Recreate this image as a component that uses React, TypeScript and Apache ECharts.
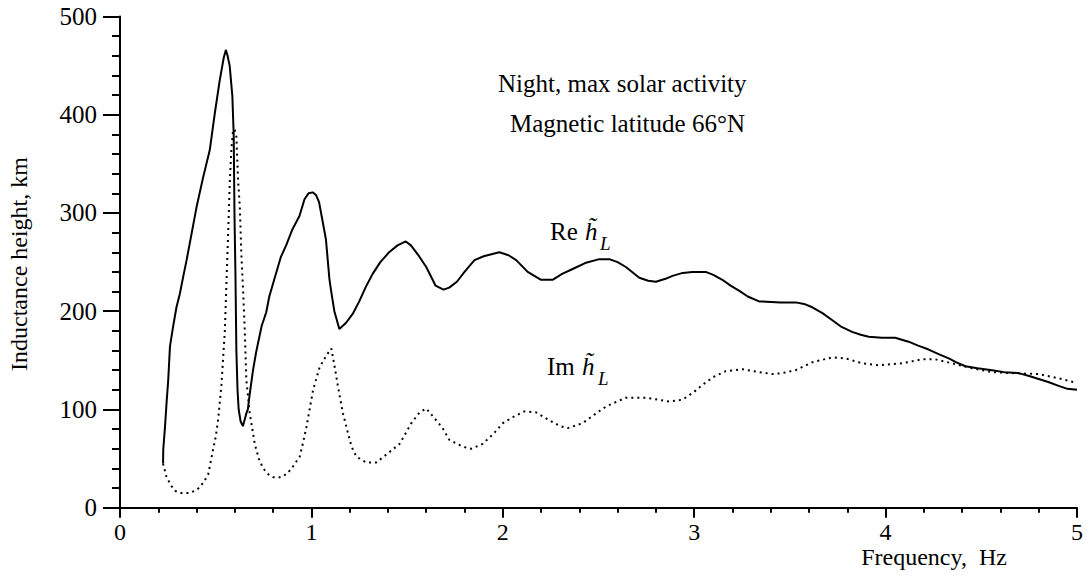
import React, { useEffect, useRef } from "react";
import * as echarts from "echarts";

// Re h_L (solid): [frequency Hz, height km]
const reCurve: [number, number][] = [
  [0.225, 45], [0.226, 59], [0.235, 82], [0.243, 106], [0.252, 130], [0.261, 164],
  [0.278, 185], [0.295, 204], [0.313, 218], [0.33, 235], [0.348, 252], [0.375, 280],
  [0.4, 306], [0.434, 336], [0.469, 364], [0.495, 401], [0.521, 435], [0.542, 458],
  [0.553, 466], [0.562, 460], [0.573, 450], [0.587, 419], [0.594, 380], [0.598, 300],
  [0.603, 240], [0.608, 160], [0.614, 120], [0.62, 100], [0.63, 88], [0.642, 83],
  [0.652, 90], [0.66, 96], [0.668, 100], [0.678, 116], [0.695, 140], [0.711, 158],
  [0.74, 185], [0.764, 199], [0.78, 215], [0.807, 233], [0.84, 255], [0.868, 267],
  [0.9, 283], [0.9375, 297], [0.964, 314], [0.985, 320], [1.007, 321], [1.025, 318],
  [1.04, 311], [1.06, 290], [1.076, 273], [1.094, 233], [1.102, 222], [1.12, 200],
  [1.146, 182], [1.18, 188], [1.215, 197], [1.25, 210], [1.285, 225], [1.32, 238],
  [1.36, 250], [1.406, 260], [1.45, 267], [1.493, 271], [1.52, 267],
  [1.5625, 256], [1.6, 245], [1.649, 226], [1.69, 222], [1.72, 224], [1.76, 230],
  [1.8, 240], [1.852, 252], [1.9, 256], [1.982, 260], [2.03, 257], [2.07, 252],
  [2.13, 240], [2.2, 232], [2.26, 232], [2.31, 238], [2.365, 243], [2.43, 249],
  [2.504, 253], [2.556, 253], [2.6, 250], [2.643, 245], [2.713, 234], [2.76, 231],
  [2.8, 230], [2.85, 233], [2.887, 236], [2.94, 239], [2.99, 240], [3.06, 240],
  [3.1, 237], [3.147, 232], [3.19, 226], [3.234, 221], [3.28, 215], [3.339, 210],
  [3.45, 209], [3.53, 209], [3.58, 207], [3.617, 204], [3.67, 198], [3.72, 191],
  [3.77, 184], [3.825, 179], [3.87, 176], [3.912, 174], [3.98, 173], [4.05, 173],
  [4.12, 169], [4.17, 165], [4.225, 161], [4.28, 156], [4.33, 152], [4.37, 148],
  [4.417, 144], [4.48, 142], [4.556, 140], [4.62, 138], [4.695, 137], [4.75, 134],
  [4.8, 131], [4.85, 128], [4.904, 124], [4.95, 121], [5.0, 120],
];

// Im h_L (dotted): [frequency Hz, height km]
const imCurve: [number, number][] = [
  [0.225, 45], [0.243, 31], [0.269, 22], [0.29, 17], [0.313, 15], [0.365, 15],
  [0.4, 18], [0.417, 21], [0.44, 27], [0.461, 34], [0.487, 60], [0.5, 72],
  [0.513, 90], [0.53, 125], [0.548, 181], [0.556, 228], [0.565, 279], [0.574, 333],
  [0.582, 365], [0.591, 385], [0.6, 384], [0.608, 378], [0.617, 333], [0.626, 306],
  [0.634, 258], [0.643, 222], [0.652, 180], [0.66, 130], [0.678, 96], [0.704, 65],
  [0.725, 50], [0.748, 40], [0.775, 34], [0.8, 31], [0.843, 31], [0.875, 35],
  [0.904, 42], [0.939, 52], [0.955, 65], [0.974, 82], [1.009, 120], [1.043, 143],
  [1.078, 155], [1.104, 162], [1.122, 143], [1.139, 123], [1.165, 96], [1.191, 76],
  [1.21, 62], [1.235, 52], [1.287, 46], [1.339, 46], [1.391, 54], [1.461, 65],
  [1.522, 86], [1.565, 97], [1.6, 101], [1.652, 89], [1.686, 81], [1.721, 69],
  [1.791, 62], [1.835, 60], [1.895, 65], [1.95, 75], [2.0, 86], [2.05, 92],
  [2.113, 98], [2.174, 97], [2.243, 89], [2.3, 83], [2.339, 81], [2.417, 86],
  [2.48, 95], [2.539, 103], [2.643, 112], [2.748, 112], [2.869, 108], [2.939, 110],
  [3.0, 118], [3.043, 125], [3.1, 133], [3.165, 139], [3.252, 141], [3.339, 138],
  [3.409, 136], [3.46, 137], [3.53, 140], [3.617, 148], [3.72, 153], [3.79, 152],
  [3.877, 147], [3.964, 145], [4.086, 147], [4.19, 151], [4.26, 151], [4.347, 147],
  [4.451, 142], [4.556, 138], [4.66, 137], [4.8, 136], [4.92, 131], [5.0, 127],
];

const xTicks = [0, 1, 2, 3, 4, 5];
const yTicks = [0, 100, 200, 300, 400, 500];

const FONT = "Liberation Serif";

export default function App() {
  const ref = useRef<HTMLDivElement>(null);

  useEffect(() => {
    if (!ref.current) return;
    const chart = echarts.init(ref.current, null, { renderer: "svg" });
    const txt = (
      text: string,
      x: number,
      y: number,
      size: number,
      extra: any = {},
      styleExtra: any = {}
    ) => ({
      type: "text",
      x,
      y,
      ...extra,
      style: {
        text,
        fontFamily: FONT,
        fontSize: size,
        fill: "#000",
        align: "left",
        verticalAlign: "middle",
        ...styleExtra,
      },
    });

    chart.setOption({
      animation: false,
      backgroundColor: "#fff",
      textStyle: { fontFamily: FONT },
      grid: { left: 120, right: 6.7, top: 16.5, bottom: 70.3, containLabel: false },
      xAxis: {
        type: "value",
        min: xTicks[0],
        max: xTicks[xTicks.length - 1],
        interval: 1,
        axisLine: { show: true, onZero: false, lineStyle: { color: "#000", width: 2 } },
        axisTick: { show: true, length: 10, lineStyle: { color: "#000", width: 2 } },
        minorTick: { show: true, splitNumber: 5, length: 5, lineStyle: { color: "#000", width: 2 } },
        splitLine: { show: false },
        minorSplitLine: { show: false },
        axisLabel: { color: "#000", fontFamily: FONT, fontSize: 24, lineHeight: 20, margin: 14 },
      },
      yAxis: {
        type: "value",
        min: yTicks[0],
        max: yTicks[yTicks.length - 1],
        interval: 100,
        axisLine: { show: true, onZero: false, lineStyle: { color: "#000", width: 2 } },
        axisTick: { show: true, length: 17, lineStyle: { color: "#000", width: 2 } },
        minorTick: { show: true, splitNumber: 5, length: 8, lineStyle: { color: "#000", width: 2 } },
        splitLine: { show: false },
        minorSplitLine: { show: false },
        axisLabel: { color: "#000", fontFamily: FONT, fontSize: 25, margin: 23 },
      },
      series: [
        {
          name: "Re",
          type: "line",
          data: reCurve,
          showSymbol: false,
          symbol: "none",
          lineStyle: { color: "#000", width: 2, type: "solid" },
        },
        {
          name: "Im",
          type: "line",
          data: imCurve,
          showSymbol: false,
          symbol: "none",
          lineStyle: { color: "#000", width: 2, type: [2, 4] },
        },
      ],
      graphic: [
        txt("Night, max solar activity", 498, 83, 25),
        txt("Magnetic latitude 66°N", 510, 123, 25),
        txt("Re", 550, 231, 25),
        txt("h\u0303", 585, 231, 25, {}, { fontStyle: "italic" }),
        txt("L", 600, 243, 19, {}, { fontStyle: "italic" }),
        txt("Im", 547, 366, 25),
        txt("h\u0303", 582, 366, 25, {}, { fontStyle: "italic" }),
        txt("L", 598, 378, 19, {}, { fontStyle: "italic" }),
        txt("Inductance height, km", 18.5, 264, 24, { rotation: Math.PI / 2 }, { align: "center" }),
        txt("Frequency,  Hz", 934, 557, 24, {}, { align: "center", lineHeight: 20 }),
      ],
    });
    return () => chart.dispose();
  }, []);

  return (
    <div
      ref={ref}
      style={{ position: "absolute", left: 0, top: 0, width: 1086, height: 578, background: "#fff" }}
    />
  );
}
